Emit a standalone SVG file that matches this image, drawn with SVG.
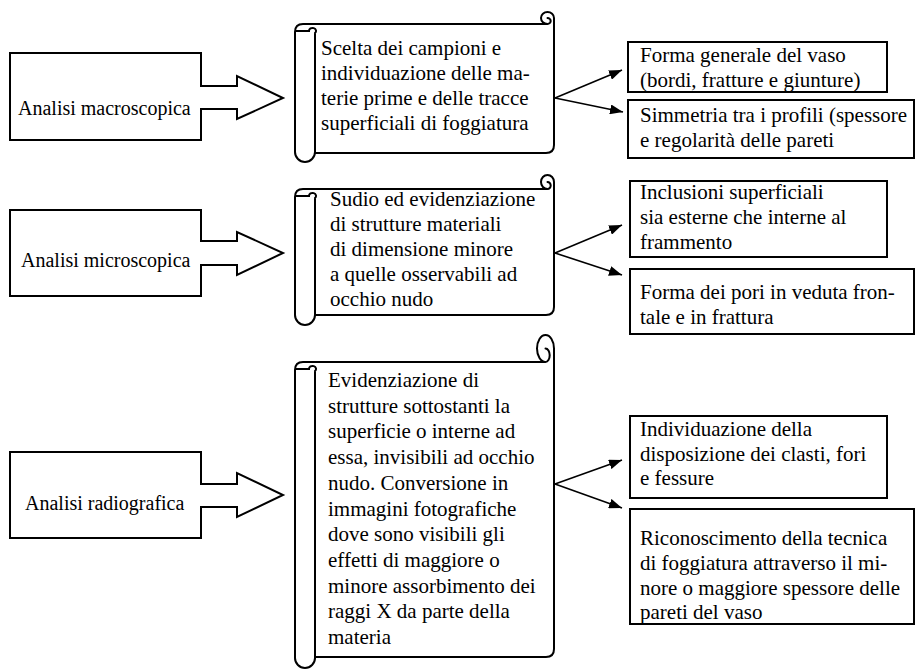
<svg xmlns="http://www.w3.org/2000/svg" width="916" height="671" viewBox="0 0 916 671">
<style>
.shape{fill:#fff;stroke:#000;stroke-width:2;stroke-linejoin:miter}
.det{fill:none;stroke:#000;stroke-width:2;stroke-linecap:round}
.box{fill:#fff;stroke:#000;stroke-width:2}
.con{fill:none;stroke:#000;stroke-width:1.6}
text{font-family:"Liberation Serif","Times New Roman",serif;font-size:21px;fill:#000}
.lbl{font-size:20px}
</style>
<defs>
<marker id="ah" markerUnits="userSpaceOnUse" markerWidth="14" markerHeight="10" refX="13" refY="5" orient="auto">
<path d="M0,0 L13,5 L0,10 Z" fill="#000"/>
</marker>
</defs>
<rect width="916" height="671" fill="#fff"/>

<g id="macro">
<polygon class="shape" points="10,53 201,53 201,86 237,86 237,76 283,98 237,119 237,109 201,109 201,140 10,140"/>
<text class="lbl" x="18" y="115">Analisi macroscopica</text>
</g>
<g id="micro">
<polygon class="shape" points="10,210 201,210 201,241 237,241 237,232 283,253 237,275 237,265 201,265 201,296 10,296"/>
<text class="lbl" x="21" y="267">Analisi microscopica</text>
</g>
<g id="radio">
<polygon class="shape" points="10,452 201,452 201,484 237,484 237,473 283,495 237,517 237,507 201,507 201,538 10,538"/>
<text class="lbl" x="25" y="510">Analisi radiografica</text>
</g>

<g id="scroll1">
<path class="shape" d="M315,153 L546,153 Q554,153 554,145 L554,18 A6.5 6 0 0 0 541,18 A6.5 6 0 0 0 547.5,24 L303,24 Q295,24 295,32 L295,152 A10 10 0 0 0 315,152 Z"/>
<path class="det" d="M315,153 L315,34 M547.5,24 A3.2 3 0 0 0 547.5,18 M296,31 L309,31 A3.5 3 0 1 1 315,33"/>
<text x="321" y="55">Scelta dei campioni e</text>
<text x="321" y="80">individuazione delle ma-</text>
<text x="321" y="105">terie prime e delle tracce</text>
<text x="321" y="130">superficiali di foggiatura</text>
</g>

<g id="scroll2">
<path class="shape" d="M315,315 L546,315 Q554,315 554,307 L554,182 A6.5 7 0 0 0 541,182 A6.5 7 0 0 0 547.5,189 L303,189 Q295,189 295,197 L295,315 A10 10 0 0 0 315,315 Z"/>
<path class="det" d="M315,315 L315,199 M547.5,189 A3.2 3.5 0 0 0 547.5,182 M296,196 L309,196 A3.5 3 0 1 1 315,198"/>
<text x="330" y="206">Sudio ed evidenziazione</text>
<text x="330" y="231">di strutture materiali</text>
<text x="330" y="256">di dimensione minore</text>
<text x="330" y="281">a quelle osservabili ad</text>
<text x="330" y="306">occhio nudo</text>
</g>

<g id="scroll3">
<path class="shape" d="M315,657 L546,657 Q554,657 554,649 L554,348.5 A8.5 13.5 0 0 0 537,348.5 A8.5 13.5 0 0 0 545.5,362 L303,362 Q295,362 295,370 L295,658 A10 10 0 0 0 315,658 Z"/>
<path class="det" d="M315,658 L315,372 M545.5,362 A4.2 6.75 0 0 0 545.5,348.5 M296,369 L309,369 A3.5 3 0 1 1 315,371"/>
<text x="328" y="387">Evidenziazione di</text>
<text x="328" y="412.7">strutture sottostanti la</text>
<text x="328" y="438.4">superficie o interne ad</text>
<text x="328" y="464.1">essa, invisibili ad occhio</text>
<text x="328" y="489.8">nudo. Conversione in</text>
<text x="328" y="515.5">immagini fotografiche</text>
<text x="328" y="541.2">dove sono visibili gli</text>
<text x="328" y="566.9">effetti di maggiore o</text>
<text x="328" y="592.6">minore assorbimento dei</text>
<text x="328" y="618.3">raggi X da parte della</text>
<text x="328" y="644">materia</text>
</g>

<g id="boxA">
<rect class="box" x="628" y="42" width="259" height="50"/>
<text x="640" y="62">Forma generale del vaso</text>
<text x="640" y="87">(bordi, fratture e giunture)</text>
</g>
<g id="boxB">
<rect class="box" x="628" y="100" width="286" height="58"/>
<text x="640" y="122">Simmetria tra i profili (spessore</text>
<text x="640" y="147">e regolarità delle pareti</text>
</g>
<g id="boxC">
<rect class="box" x="630" y="181" width="257" height="76"/>
<text x="640" y="199">Inclusioni superficiali</text>
<text x="640" y="224">sia esterne che interne al</text>
<text x="640" y="249">frammento</text>
</g>
<g id="boxD">
<rect class="box" x="630" y="269" width="284" height="65"/>
<text x="640" y="299">Forma dei pori in veduta fron-</text>
<text x="640" y="324">tale e in frattura</text>
</g>
<g id="boxE">
<rect class="box" x="630" y="416" width="257" height="82"/>
<text x="640" y="436">Individuazione della</text>
<text x="640" y="461">disposizione dei clasti, fori</text>
<text x="640" y="485">e fessure</text>
</g>
<g id="boxF">
<rect class="box" x="630" y="509" width="284" height="115"/>
<text x="640" y="545">Riconoscimento della tecnica</text>
<text x="640" y="570">di foggiatura attraverso il mi-</text>
<text x="640" y="595">nore o maggiore spessore delle</text>
<text x="640" y="619">pareti del vaso</text>
</g>

<g id="connectors">
<line class="con" x1="555" y1="98" x2="622" y2="70" marker-end="url(#ah)"/>
<line class="con" x1="555" y1="98" x2="623" y2="112" marker-end="url(#ah)"/>
<line class="con" x1="555" y1="253" x2="622" y2="225" marker-end="url(#ah)"/>
<line class="con" x1="555" y1="253" x2="622" y2="275" marker-end="url(#ah)"/>
<line class="con" x1="555" y1="484" x2="622" y2="460" marker-end="url(#ah)"/>
<line class="con" x1="555" y1="484" x2="622" y2="508" marker-end="url(#ah)"/>
</g>
</svg>
